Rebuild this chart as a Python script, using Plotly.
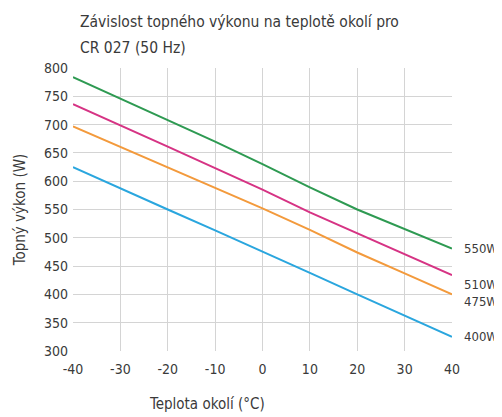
import plotly.graph_objects as go

temps = [-40, -30, -20, -10, 0, 10, 20, 30, 40]
p550 = [784, 746, 708, 670, 630, 589, 550, 516, 481]
p510 = [736, 699, 661, 623, 585, 545, 508, 472, 434]
p475 = [697, 661, 624, 588, 552, 514, 474, 437, 400]
p400 = [625, 587, 550, 513, 476, 438, 400, 363, 325]

series_names = ["550W", "510W", "475W", "400W"]
label_y = [481, 418, 388, 325]
colors = ["#2e9a52", "#d63384", "#f39a3c", "#2aa6de"]

FONT = "DejaVu Sans Condensed, Liberation Sans Narrow, Roboto, sans-serif"
TXT = "#3a3a3a"

# page body has an 8px default margin, so the figure is sized/offset to compensate
fig = go.Figure()
for name, vals, col, ly in zip(series_names, [p550, p510, p475, p400], colors, label_y):
    fig.add_trace(go.Scatter(x=temps, y=vals, mode="lines", name=name,
                             line=dict(color=col, width=2), showlegend=False))
    fig.add_annotation(x=1, xref="paper", xshift=10, y=ly, yref="y", text=name,
                       showarrow=False, xanchor="left", yanchor="middle",
                       font=dict(family=FONT, size=13, color=TXT))

PW = 379.0
fig.add_annotation(xref="paper", yref="paper", x=5 / PW, y=1, yshift=46,
                   text="Závislost topného výkonu na teplotě okolí pro", showarrow=False,
                   xanchor="left", yanchor="middle", font=dict(family=FONT, size=15.5, color=TXT))
fig.add_annotation(xref="paper", yref="paper", x=5 / PW, y=1, yshift=20,
                   text="CR 027 (50 Hz)", showarrow=False,
                   xanchor="left", yanchor="middle", font=dict(family=FONT, size=15.5, color=TXT))
fig.add_annotation(xref="paper", yref="paper", x=(207 - 73) / PW, y=0, yshift=-53,
                   text="Teplota okolí (°C)", showarrow=False,
                   xanchor="center", yanchor="middle", font=dict(family=FONT, size=15, color=TXT))

fig.update_layout(
    width=494, height=409,
    margin=dict(l=65, r=50, t=60, b=66),
    plot_bgcolor="white", paper_bgcolor="white",
    font=dict(family=FONT, size=13, color=TXT),
)
fig.update_xaxes(range=[-40, 40], tickvals=temps, ticktext=[str(t) for t in temps],
                 showgrid=True, gridcolor="#d4d4d4", gridwidth=1, zeroline=False,
                 showline=False, ticks="", tickfont=dict(size=14), ticklabelstandoff=8)
fig.update_yaxes(range=[300, 800], dtick=50,
                 showgrid=True, gridcolor="#d4d4d4", gridwidth=1, zeroline=False,
                 showline=False, ticks="", tickfont=dict(size=14), ticklabelstandoff=4,
                 title=dict(text="Topný výkon (W)", font=dict(size=15, color=TXT), standoff=14))

fig.write_html("out.html")
